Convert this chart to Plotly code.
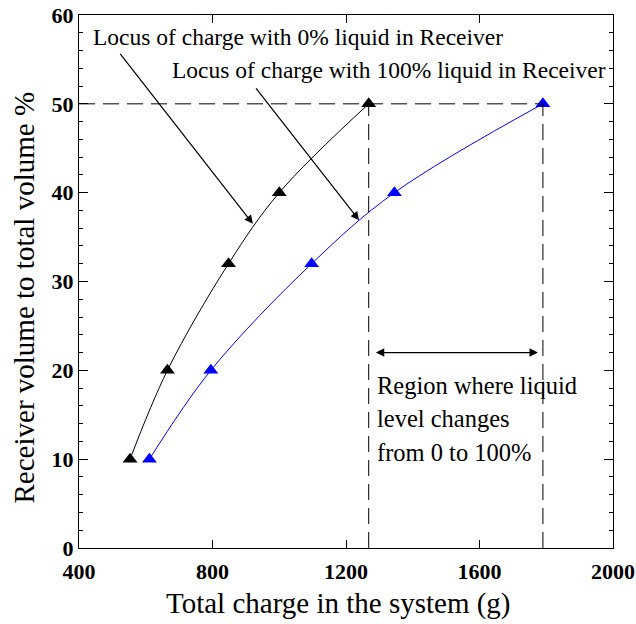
import plotly.graph_objects as go

# Charge loci (g) vs receiver volume fraction (%)
vol_pct = [10, 20, 32, 40, 50]
charge_0pct_liquid = [553, 665, 848, 1000, 1268]
charge_100pct_liquid = [611, 795, 1097, 1345, 1790]

x_ticks = [400, 800, 1200, 1600, 2000]
y_ticks = [0, 10, 20, 30, 40, 50, 60]

SERIF = "Times New Roman"

fig = go.Figure()

fig.add_trace(go.Scatter(
    x=charge_0pct_liquid, y=vol_pct, mode="lines+markers",
    line=dict(color="black", width=1, shape="spline"),
    marker=dict(symbol="triangle-up", size=13, color="black"),
    showlegend=False,
))
fig.add_trace(go.Scatter(
    x=charge_100pct_liquid, y=vol_pct, mode="lines+markers",
    line=dict(color="#0000ff", width=1, shape="spline"),
    marker=dict(symbol="triangle-up", size=13, color="#0000ff"),
    showlegend=False,
))

dash = "16px,8px"
top_vol = vol_pct[-1]
x_lo = charge_0pct_liquid[-1]
x_hi = charge_100pct_liquid[-1]
# Horizontal reference at the 50 % line and verticals bounding the level-change region
fig.add_shape(type="line", x0=x_ticks[0], x1=x_hi, y0=top_vol, y1=top_vol,
              line=dict(color="black", width=1, dash=dash))
for xv in (x_lo, x_hi):
    fig.add_shape(type="line", x0=xv, x1=xv, y0=0, y1=top_vol,
                  line=dict(color="black", width=1, dash=dash))

font_top = dict(family=SERIF, size=23.5, color="black")
font_region = dict(family=SERIF, size=24.5, color="black")
font_title = dict(family=SERIF, size=29, color="black")

annotations = [
    dict(x=436, y=57.5, text="Locus of charge with 0% liquid in Receiver",
         showarrow=False, xanchor="left", yanchor="middle", font=font_top),
    dict(x=672, y=53.8, text="Locus of charge with 100% liquid in Receiver",
         showarrow=False, xanchor="left", yanchor="middle", font=font_top),
    # pointer arrows
    dict(x=921, y=36.5, ax=520, ay=55.8, axref="x", ayref="y", xref="x", yref="y",
         text="", showarrow=True, arrowhead=2, arrowsize=1.4, arrowwidth=1.2,
         arrowcolor="black"),
    dict(x=1239, y=36.9, ax=927, ay=51.9, axref="x", ayref="y", xref="x", yref="y",
         text="", showarrow=True, arrowhead=2, arrowsize=1.4, arrowwidth=1.2,
         arrowcolor="black"),
    # double-headed span arrow
    dict(x=1775, y=22, ax=1285, ay=22, axref="x", ayref="y", xref="x", yref="y",
         text="", showarrow=True, arrowhead=2, startarrowhead=2, arrowside="end+start",
         arrowsize=1.4, startarrowsize=1.4, arrowwidth=1.2, arrowcolor="black"),
    dict(x=1286, y=18.3, text="Region where liquid", showarrow=False,
         xanchor="left", yanchor="middle", font=font_region),
    dict(x=1286, y=14.6, text="level changes", showarrow=False,
         xanchor="left", yanchor="middle", font=font_region),
    dict(x=1286, y=10.8, text="from 0 to 100%", showarrow=False,
         xanchor="left", yanchor="middle", font=font_region),
    # axis titles
    dict(x=-0.103, y=0.47, xref="paper", yref="paper", textangle=-90,
         text="Receiver volume to total volume %", showarrow=False,
         xanchor="center", yanchor="middle", font=font_title),
    dict(x=0.486, y=-0.105, xref="paper", yref="paper",
         text="Total charge in the system (g)", showarrow=False,
         xanchor="center", yanchor="middle", font=font_title),
]

axis_common = dict(
    showline=True, linecolor="black", linewidth=1, mirror="ticks",
    ticks="inside", tickcolor="black", showgrid=False, zeroline=False,
    automargin=False,
    tickfont=dict(family=SERIF, size=22, color="black", weight="bold"),
)

fig.update_layout(
    width=636, height=624,
    margin=dict(l=79, r=23, t=15, b=76),
    plot_bgcolor="white", paper_bgcolor="white",
    font=dict(family=SERIF),
    annotations=annotations,
    xaxis=dict(range=[400, 2000], tickvals=x_ticks, ticklen=8, ticklabelstandoff=4,
               **axis_common),
    yaxis=dict(range=[0, 60], tickvals=y_ticks, ticklen=9,
               minor=dict(ticks="inside", dtick=2, ticklen=4, tickcolor="black"),
               **axis_common),
)

fig.write_html("out.html")
